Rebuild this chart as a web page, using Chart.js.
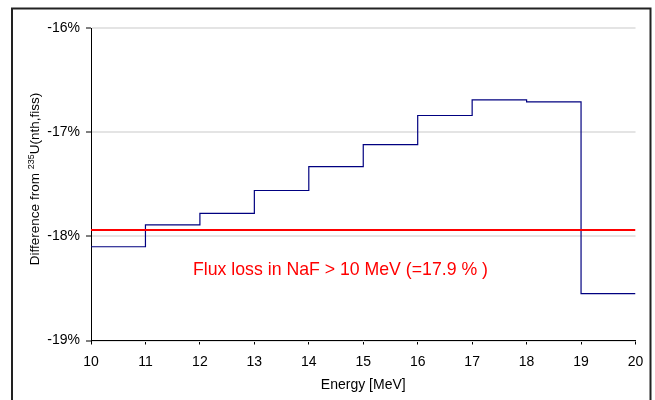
<!DOCTYPE html>
<html>
<head>
<meta charset="utf-8">
<script src="https://cdn.jsdelivr.net/npm/chart.js@4"></script>
<style>
  html, body { margin: 0; padding: 0; background: #fff; }
  #wrap { width: 655px; height: 400px; position: relative; }
</style>
</head>
<body>
<div id="wrap"><canvas id="c" width="655" height="400"></canvas></div>
<script>
// Energy bin edges [MeV] and the difference per bin [%]
const energyEdges = [10, 11, 12, 13, 14, 15, 16, 17, 18, 19, 20];
const differencePct = [-18.10, -17.89, -17.78, -17.56, -17.33, -17.12, -16.84, -16.69, -16.71, -18.55];
// Integrated flux loss above 10 MeV [%]
const fluxLossPct = 17.94;
// Axis tick values
const xTickValues = [10, 11, 12, 13, 14, 15, 16, 17, 18, 19, 20];
const yTickValues = [-19, -18, -17, -16];

const FONT = '"Liberation Sans", Arial, sans-serif';

// Histogram points: each bin value held from its lower edge to the next edge
const stepPoints = energyEdges.map((e, i) => ({
  x: e,
  y: differencePct[Math.min(i, differencePct.length - 1)]
}));
const lossPoints = [
  { x: energyEdges[0], y: -fluxLossPct },
  { x: energyEdges[energyEdges.length - 1], y: -fluxLossPct }
];

const decorations = {
  id: 'decorations',
  afterDraw(chart) {
    const ctx = chart.ctx;
    const area = chart.chartArea;
    ctx.save();

    // x-axis title
    ctx.fillStyle = '#000';
    ctx.font = '14px ' + FONT;
    ctx.textAlign = 'center';
    ctx.textBaseline = 'middle';
    ctx.fillText('Energy [MeV]', (area.left + area.right) / 2, 385);

    // y-axis title with superscript mass number
    const mainFont = '13.5px ' + FONT;
    const supFont = '9px ' + FONT;
    const p1 = 'Difference from ', p2 = '235', p3 = 'U(nth,fiss)';
    ctx.font = mainFont; const w1 = ctx.measureText(p1).width; const w3 = ctx.measureText(p3).width;
    ctx.font = supFont; const w2 = ctx.measureText(p2).width;
    const total = w1 + w2 + w3;
    ctx.translate(38.5, 179);
    ctx.rotate(-Math.PI / 2);
    ctx.textAlign = 'left';
    ctx.textBaseline = 'alphabetic';
    let x = -total / 2;
    ctx.font = mainFont; ctx.fillText(p1, x, 0); x += w1;
    ctx.font = supFont; ctx.fillText(p2, x, -5); x += w2;
    ctx.font = mainFont; ctx.fillText(p3, x, 0);
    ctx.setTransform(1, 0, 0, 1, 0, 0);

    // flux-loss annotation
    ctx.fillStyle = '#ff0000';
    ctx.font = '17.7px ' + FONT;
    ctx.textAlign = 'left';
    ctx.textBaseline = 'alphabetic';
    ctx.fillText('Flux loss in NaF > 10 MeV (=' + fluxLossPct.toFixed(1) + ' % )', 193, 275);

    // outer frame
    ctx.strokeStyle = '#222';
    ctx.lineWidth = 2;
    ctx.strokeRect(12, 8.5, 638.5, 400);
    ctx.restore();
  }
};

new Chart(document.getElementById('c'), {
  type: 'line',
  data: {
    datasets: [
      {
        data: lossPoints,
        borderColor: '#ff0000',
        borderWidth: 2,
        pointRadius: 0,
        fill: false
      },
      {
        data: stepPoints,
        stepped: 'before',
        borderColor: '#000080',
        borderWidth: 1.2,
        pointRadius: 0,
        fill: false
      }
    ]
  },
  options: {
    responsive: false,
    animation: false,
    devicePixelRatio: 1,
    layout: { padding: { left: 0, right: 19.5, top: 28, bottom: 0 } },
    plugins: { legend: { display: false }, tooltip: { enabled: false } },
    scales: {
      x: {
        type: 'linear',
        min: 10,
        max: 20,
        afterBuildTicks: (s) => { s.ticks = xTickValues.map(v => ({ value: v })); },
        afterFit: (s) => { s.height = 59.5; },
        ticks: { color: '#000', font: { family: FONT, size: 14 }, padding: 9, maxRotation: 0 },
        grid: { drawOnChartArea: false, tickLength: 4, tickColor: '#000', tickWidth: 1 },
        border: { color: '#000', width: 1 }
      },
      y: {
        type: 'linear',
        min: -19,
        max: -16,
        afterBuildTicks: (s) => { s.ticks = yTickValues.map(v => ({ value: v })); },
        afterFit: (s) => { s.width = 91; },
        ticks: { color: '#000', font: { family: FONT, size: 14 }, padding: 6, callback: (v) => v + '%' },
        grid: { color: '#e4e4e4', lineWidth: 2, tickLength: 5, tickColor: '#000', tickWidth: 1 },
        border: { color: '#000', width: 1 }
      }
    }
  },
  plugins: [decorations]
});
</script>
</body>
</html>
